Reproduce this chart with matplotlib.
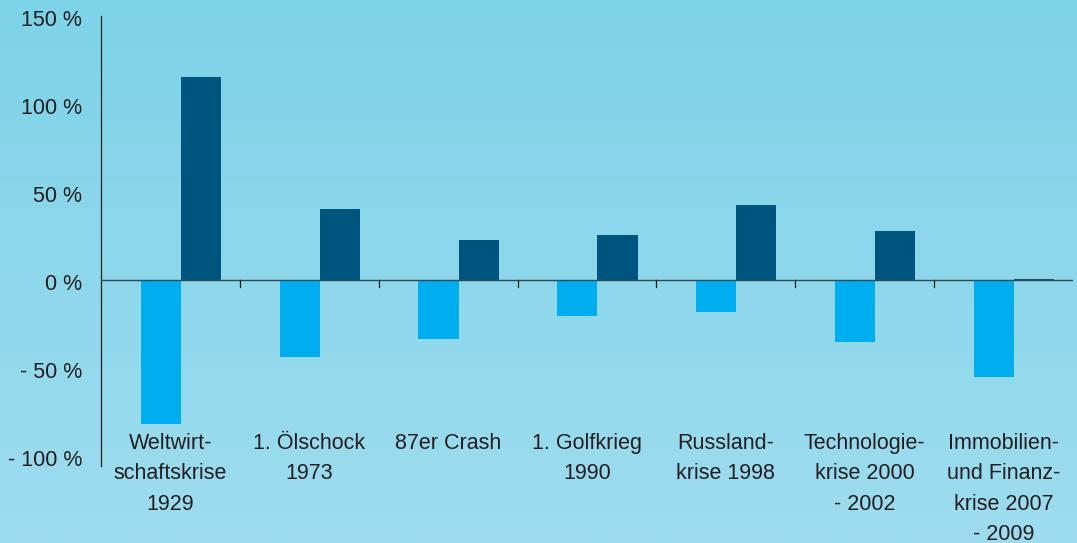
import numpy as np
import matplotlib
matplotlib.use("Agg")
import matplotlib.pyplot as plt
from matplotlib.transforms import ScaledTranslation

# Werte (Prozent)
categories = [
    "Weltwirt-\nschaftskrise\n1929",
    "1. Ölschock\n1973",
    "87er Crash",
    "1. Golfkrieg\n1990",
    "Russland-\nkrise 1998",
    "Technologie-\nkrise 2000\n- 2002",
    "Immobilien-\nund Finanz-\nkrise 2007\n- 2009",
]
drawdown = [-82.3, -44.0, -33.8, -20.7, -18.5, -35.5, -55.2]
recovery = [115.1, 40.0, 22.4, 25.3, 42.3, 27.6, 0.5]
y_ticks = [-100, -50, 0, 50, 100, 150]
y_labels = ["- 100 %", "- 50 %", "0 %", "50 %", "100 %", "150 %"]

plt.rcParams["font.family"] = ["Liberation Sans", "DejaVu Sans"]
text_col = "#231f20"

W, H = 1077, 543
fig = plt.figure(figsize=(W / 100, H / 100), dpi=100)

# Hintergrund mit leichtem Verlauf
bg = fig.add_axes([0, 0, 1, 1])
grad = np.linspace(0, 1, 256).reshape(-1, 1)
cmap = matplotlib.colors.LinearSegmentedColormap.from_list("bg", ["#7dd3e8", "#9fdcef"])
bg.imshow(grad, aspect="auto", cmap=cmap, extent=[0, 1, 0, 1], origin="upper")
bg.axis("off")

left, right = 101 / W, 1073 / W
top, bottom = 16 / H, 466 / H
ax = fig.add_axes([left, 1 - bottom, right - left, bottom - top])
ax.patch.set_alpha(0)

x = np.arange(len(categories))
bw = 0.289
ax.bar(x - 0.214 + bw / 2, drawdown, width=bw, color="#00aeef", zorder=2)
ax.bar(x - 0.214 + bw * 1.5, recovery, width=bw, color="#00557f", zorder=2)

ax.set_xlim(-0.5, 6.5)
ax.set_ylim(-106, 150)
ax.axhline(0, color="#2c4c5c", lw=1.0, zorder=3)

# kleine Trennstriche unter der Nulllinie
for b in np.arange(0.5, 6, 1.0):
    ax.plot([b, b], [0, -4], color=text_col, lw=0.9, zorder=3)

for s in ["top", "right", "bottom"]:
    ax.spines[s].set_visible(False)
ax.spines["left"].set_color(text_col)
ax.spines["left"].set_linewidth(0.9)

ax.set_xticks([])
ax.set_yticks([])
# Achsenbeschriftung etwas unterhalb der Werte, wie im Original
shift = ScaledTranslation(-19 / 100, -5 / 100, fig.dpi_scale_trans)
for v, lab in zip(y_ticks, y_labels):
    ax.text(0, v, lab, transform=ax.get_yaxis_transform() + shift,
            ha="right", va="center", fontsize=15.5, color=text_col)

for xi, cat in zip(x, categories):
    ax.text(xi, -87.3, cat, ha="center", va="top", fontsize=15.5,
            color=text_col, linespacing=1.58, clip_on=False)

fig.savefig("out.png", dpi=100)
